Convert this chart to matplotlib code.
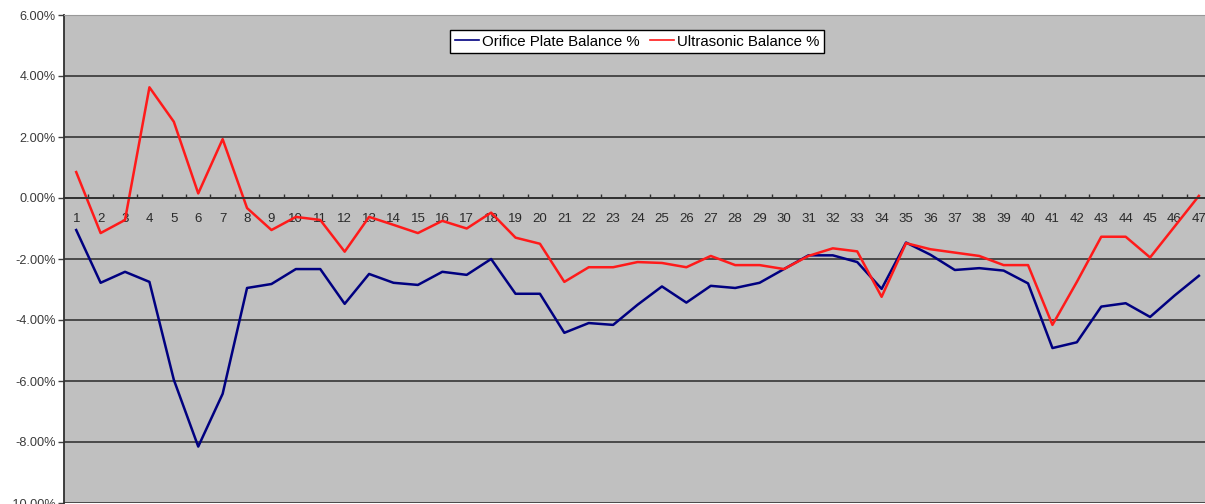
import numpy as np
import matplotlib.pyplot as plt
from matplotlib.ticker import FuncFormatter, FixedLocator

plt.rcParams['font.family'] = ['Liberation Sans', 'DejaVu Sans']

BACKGROUND_COLOR = "#c0c0c0"

# test numbers along the x axis
tests = list(range(1, 48))

# balance in percent
orifice = [-1.05, -2.78, -2.42, -2.75, -5.96, -8.15, -6.42, -2.95, -2.82, -2.33,
           -2.33, -3.47, -2.49, -2.78, -2.85, -2.42, -2.52, -2.00, -3.14, -3.14,
           -4.42, -4.10, -4.16, -3.50, -2.90, -3.43, -2.88, -2.95, -2.78, -2.33,
           -1.88, -1.88, -2.10, -2.98, -1.46, -1.86, -2.36, -2.30, -2.38, -2.80,
           -4.92, -4.73, -3.56, -3.45, -3.90, -3.20, -2.55]
ultrasonic = [0.85, -1.15, -0.72, 3.63, 2.50, 0.15, 1.93, -0.33, -1.05, -0.62,
              -0.72, -1.76, -0.62, -0.88, -1.15, -0.75, -1.00, -0.48, -1.30, -1.50,
              -2.75, -2.27, -2.27, -2.10, -2.13, -2.27, -1.90, -2.20, -2.20, -2.33,
              -1.90, -1.65, -1.75, -3.24, -1.48, -1.68, -1.79, -1.90, -2.20, -2.20,
              -4.16, -2.75, -1.27, -1.27, -1.95, -0.94, 0.07]

fig = plt.figure(figsize=(12.05, 5.04), dpi=100)
ax = fig.add_axes([64/1205, 1/504, 1141/1205, 488/504])
ax.set_facecolor(BACKGROUND_COLOR)

ax.plot(tests, orifice, color="#000080", lw=1.8, label="Orifice Plate Balance %")
ax.plot(tests, ultrasonic, color="#ff1a1a", lw=1.8, label="Ultrasonic Balance %")

ax.set_xlim(0.5, 47.25)
ax.set_ylim(-10, 6)

# y axis: percent labels, dark horizontal gridlines
ax.yaxis.set_major_locator(FixedLocator(np.arange(-10, 7, 2)))
ax.yaxis.set_major_formatter(FuncFormatter(lambda v, p: "%.2f%%" % v))
ax.tick_params(axis='y', length=4, width=1, color="#404040", labelsize=9.2,
               labelcolor="#3a3a3a", pad=2)
ax.grid(axis='y', color="#404040", lw=1.3)
ax.set_axisbelow(True)

# category axis crossing at zero, tick marks between categories
ax.spines['bottom'].set_position(('data', 0))
ax.spines['bottom'].set_color("#303030")
ax.spines['bottom'].set_linewidth(1.3)
ax.xaxis.set_major_locator(FixedLocator(np.arange(1.5, 47, 1)))
ax.xaxis.set_major_formatter(FuncFormatter(lambda v, p: ""))
ax.xaxis.set_minor_locator(FixedLocator(tests))
ax.xaxis.set_minor_formatter(FuncFormatter(lambda v, p: "%d" % v))
ax.tick_params(axis='x', which='major', direction='in', length=3, width=1, color="#303030")
ax.tick_params(axis='x', which='minor', length=0, labelsize=9.5, labelcolor="#2a2a2a", pad=11)

ax.spines['left'].set_color("#303030")
ax.spines['left'].set_linewidth(1.3)
ax.spines['top'].set_color("#999999")
ax.spines['right'].set_visible(False)

leg = ax.legend(loc='upper center', bbox_to_anchor=(0.502, 0.969), ncol=2,
                fontsize=10.8, handlelength=1.6, handletextpad=0.2, columnspacing=0.7,
                borderaxespad=0, borderpad=0.3, fancybox=False, framealpha=1)
leg.get_frame().set_edgecolor("black")
leg.get_frame().set_linewidth(1.0)
for line in leg.get_lines():
    line.set_linewidth(1.2)

fig.savefig("out.png", dpi=100)
